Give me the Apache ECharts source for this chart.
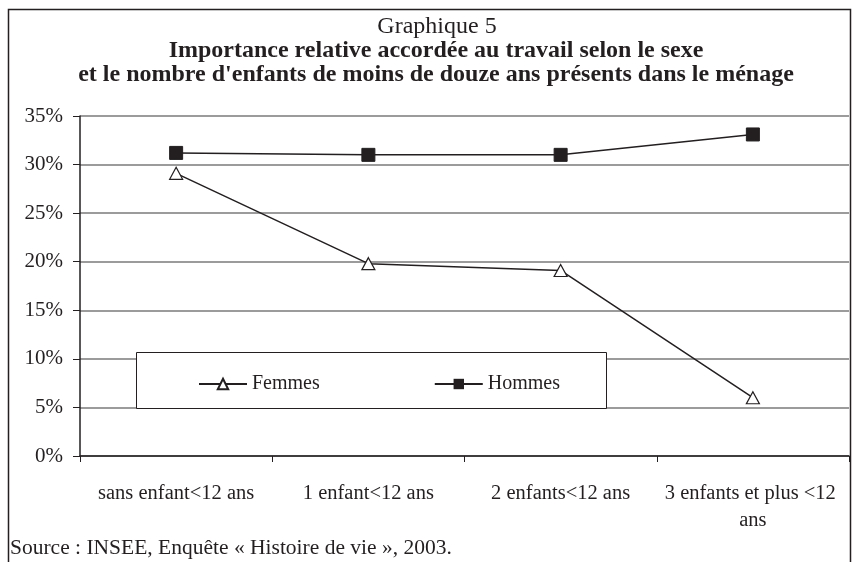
<!DOCTYPE html>
<html lang="fr">
<head>
    <meta charset="UTF-8">
    <title>Graphique 5</title>
    <script src="https://cdn.jsdelivr.net/npm/echarts@6/dist/echarts.min.js"></script>
    <style>
        html, body { margin: 0; padding: 0; background: #fff; }
        #chart { width: 853px; height: 562px; }
    </style>
</head>
<body>
<div id="chart"></div>
<script>
    // categories et valeurs (%)
    var categories = ["sans enfant<12 ans", "1 enfant<12 ans", "2 enfants<12 ans", "3 enfants et plus <12 ans"];
    var femmes = [29.1, 19.8, 19.1, 6.0];
    var hommes = [31.2, 31.0, 31.0, 33.1];
    var yTicks = [0, 5, 10, 15, 20, 25, 30, 35];

    var font = "Liberation Serif";
    var ink = "#231f20";

    var chart = echarts.init(document.getElementById("chart"));
    var option = {
        animation: false,
        backgroundColor: "#fff",
        title: [
            {
                text: "Graphique 5",
                left: 432, top: 10, textAlign: "center",
                textStyle: { fontFamily: font, fontSize: 24, fontWeight: "normal", color: ink, lineHeight: 24 }
            },
            {
                text: "Importance relative accordée au travail selon le sexe\net le nombre d'enfants de moins de douze ans présents dans le ménage",
                left: 431, top: 34,
                textAlign: "center",
                textStyle: { fontFamily: font, fontSize: 24, fontWeight: "bold", color: ink, lineHeight: 24 }
            }
        ],
        graphic: [
            // cadre extérieur
            { type: "rect", shape: { x: 8.5, y: 9.5, width: 842, height: 600 }, style: { fill: "none", stroke: ink, lineWidth: 1.5 }, z: 1 },
            // cadre de la légende
            { type: "rect", shape: { x: 136.5, y: 352.5, width: 470, height: 56 }, style: { fill: "#fff", stroke: ink, lineWidth: 1 }, z: 5 },
            {
                type: "text", left: 10, top: 537,
                style: { text: "Source : INSEE, Enquête « Histoire de vie », 2003.", font: "21.5px " + font, fill: ink }
            }
        ],
        legend: {
            left: 193, top: 369, z: 10,
            itemWidth: 48, itemHeight: 13, itemGap: 114,
            textStyle: { fontFamily: font, fontSize: 20, color: ink },
            data: ["Femmes", "Hommes"]
        },
        grid: { left: 80, right: 4, top: 116, bottom: 106 },
        xAxis: {
            type: "category",
            data: categories,
            axisLine: { lineStyle: { color: ink, width: 1.5 } },
            axisTick: { show: true, length: 6, lineStyle: { color: ink } },
            axisLabel: {
                fontFamily: font, fontSize: 20.5, color: ink, margin: 24,
                width: 184, overflow: "break", lineHeight: 27, interval: 0
            }
        },
        yAxis: {
            type: "value",
            min: yTicks[0], max: yTicks[yTicks.length - 1], interval: 5,
            axisLine: { show: true, lineStyle: { color: ink, width: 1.5 } },
            axisTick: { show: true, length: 7, lineStyle: { color: ink } },
            axisLabel: { fontFamily: font, fontSize: 21, color: ink, margin: 17, formatter: "{value}%" },
            splitLine: { lineStyle: { color: "#7a7a7a", width: 1.5 } }
        },
        series: [
            {
                name: "Femmes", type: "line", data: femmes,
                symbol: "triangle", symbolSize: [13, 12],
                lineStyle: { color: ink, width: 1.5 },
                itemStyle: { color: "#fff", borderColor: ink, borderWidth: 1.2 }
            },
            {
                name: "Hommes", type: "line", data: hommes,
                symbol: "rect", symbolSize: 13,
                lineStyle: { color: ink, width: 1.5 },
                itemStyle: { color: ink, borderColor: ink }
            }
        ]
    };
    chart.setOption(option);
</script>
</body>
</html>
